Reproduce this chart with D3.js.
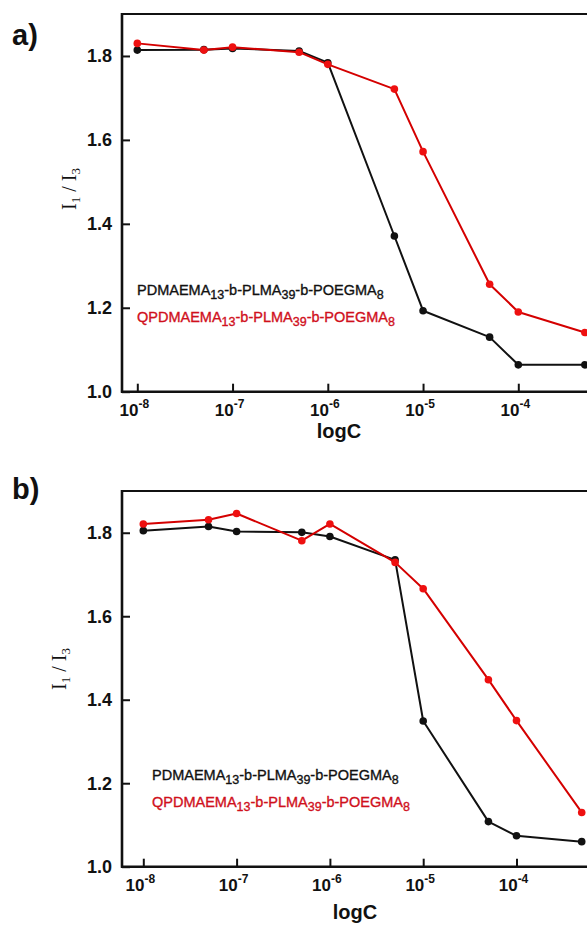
<!DOCTYPE html>
<html><head><meta charset="utf-8">
<script src="https://cdn.jsdelivr.net/npm/d3@7"></script>
<style>
body{margin:0;background:#fff;}
svg{display:block;}
</style></head>
<body>
<svg id="c" width="587" height="931"></svg>
<script>
// ---- data ----
const concentrations = [1e-8, 5e-8, 1e-7, 5e-7, 1e-6, 5e-6, 1e-5, 5e-5, 1e-4, 5e-4];
const panelA_PDMAEMA  = [1.814, 1.815, 1.818, 1.812, 1.784, 1.371, 1.193, 1.130, 1.064, 1.064];
const panelA_QPDMAEMA = [1.830, 1.814, 1.821, 1.809, 1.780, 1.721, 1.572, 1.256, 1.190, 1.141];
const panelB_PDMAEMA  = [1.805, 1.815, 1.803, 1.801, 1.791, 1.735, 1.349, 1.108, 1.074, 1.060];
const panelB_QPDMAEMA = [1.821, 1.831, 1.846, 1.781, 1.821, 1.729, 1.666, 1.448, 1.350, 1.130];
const xTickValues = [1e-8, 1e-7, 1e-6, 1e-5, 1e-4];
const xTickExponents = ["-8", "-7", "-6", "-5", "-4"];
const yTickValues = [1.0, 1.2, 1.4, 1.6, 1.8];
const yTickLabels = ["1.0", "1.2", "1.4", "1.6", "1.8"];
const panelLetters = ["a)", "b)"];
const seriesNames = ["PDMAEMA", "QPDMAEMA"];

const svg = d3.select("#c");
const BLACK = "#111", RED_LINE = "#d40000", RED_DOT = "#ee1010", RED_TEXT = "#d0101c";

const panels = [
  {letter: panelLetters[0], a: panelA_PDMAEMA, b: panelA_QPDMAEMA,
   left: 122, top: 14, bottom: 391.7, x8: 137.3, decade: 95.25,
   letterPos: [12, 45], titlePos: [75.5, 189], xlabelPos: [339, 437.5], legendPos: [137, 290]},
  {letter: panelLetters[1], a: panelB_PDMAEMA, b: panelB_QPDMAEMA,
   left: 122, top: 491, bottom: 866.7, x8: 143.3, decade: 93.3,
   letterPos: [12, 499], titlePos: [66, 669], xlabelPos: [355, 919], legendPos: [152, 775]}
];

panels.forEach(p => {
  const lo = -8 - (p.x8 - p.left) / p.decade;
  const x = d3.scaleLog().domain([Math.pow(10, lo), 1e-3]).range([p.left, p.x8 + 5 * p.decade]);
  const y = d3.scaleLinear().domain([1.0, 1.9]).range([p.bottom, p.top]);
  const g = svg.append("g");

  // frame: top line
  g.append("line").attr("x1", p.left).attr("x2", 600).attr("y1", p.top).attr("y2", p.top)
    .attr("stroke", BLACK).attr("stroke-width", 2.2);

  // x axis
  const xa = g.append("g").attr("transform", `translate(0,${p.bottom})`)
    .call(d3.axisBottom(x).tickValues(xTickValues).tickSizeInner(-8).tickSizeOuter(0).tickFormat(""));
  xa.select(".domain").attr("stroke", BLACK).attr("stroke-width", 2.6).attr("d", `M${p.left - 1},0H600`);
  xa.selectAll(".tick line").attr("stroke", BLACK).attr("stroke-width", 2);
  xTickValues.forEach((v, i) => {
    const t = g.append("text").attr("x", x(v) - 3).attr("y", p.bottom + 24)
      .attr("text-anchor", "middle").attr("font-family", "Liberation Sans, Arial, sans-serif")
      .attr("font-weight", "bold").attr("font-size", 17).attr("fill", BLACK);
    t.append("tspan").text("10");
    t.append("tspan").attr("font-size", 12).attr("dy", -8).text(xTickExponents[i]);
  });

  // y axis
  const ya = g.append("g").attr("transform", `translate(${p.left},0)`)
    .call(d3.axisLeft(y).tickValues(yTickValues).tickSizeInner(-8).tickSizeOuter(0).tickFormat(""));
  ya.select(".domain").attr("stroke", BLACK).attr("stroke-width", 2.6).attr("d", `M0,${p.bottom + 1}V${p.top - 1}`);
  ya.selectAll(".tick line").attr("stroke", BLACK).attr("stroke-width", 2);
  yTickValues.forEach((v, i) => {
    g.append("text").attr("x", p.left - 10).attr("y", y(v) + 6.5)
      .attr("text-anchor", "end").attr("font-family", "Liberation Sans, Arial, sans-serif")
      .attr("font-weight", "bold").attr("font-size", 18).attr("fill", BLACK).text(yTickLabels[i]);
  });

  // axis titles
  g.append("text").attr("x", p.xlabelPos[0]).attr("y", p.xlabelPos[1]).attr("text-anchor", "middle")
    .attr("font-family", "Liberation Sans, Arial, sans-serif").attr("font-weight", "bold")
    .attr("font-size", 20).attr("fill", BLACK).text("logC");
  const yt = g.append("text").attr("transform", `translate(${p.titlePos[0]},${p.titlePos[1]}) rotate(-90)`)
    .attr("text-anchor", "middle").attr("font-family", "Liberation Serif, Times New Roman, serif")
    .attr("font-size", 20).attr("fill", BLACK);
  yt.append("tspan").text("I");
  yt.append("tspan").attr("font-size", 13).attr("dy", 4).text("1");
  yt.append("tspan").attr("dy", -4).text(" / I");
  yt.append("tspan").attr("font-size", 13).attr("dy", 4).text("3");

  // panel letter
  g.append("text").attr("x", p.letterPos[0]).attr("y", p.letterPos[1])
    .attr("font-family", "Liberation Sans, Arial, sans-serif").attr("font-weight", "bold")
    .attr("font-size", 29).attr("fill", BLACK).text(p.letter);

  // series
  const line = d3.line().x((d, i) => x(concentrations[i])).y(d => y(d));
  [[p.a, BLACK, BLACK], [p.b, RED_LINE, RED_DOT]].forEach(([vals, lc, dc]) => {
    g.append("path").datum(vals).attr("d", line).attr("fill", "none")
      .attr("stroke", lc).attr("stroke-width", 2).attr("stroke-linejoin", "round");
    g.selectAll(null).data(vals).enter().append("circle")
      .attr("cx", (d, i) => x(concentrations[i])).attr("cy", d => y(d)).attr("r", 3.8).attr("fill", dc);
  });

  // legend
  [[seriesNames[0], BLACK, 0], [seriesNames[1], RED_TEXT, 26.7]].forEach(([nm, col, dy]) => {
    const t = g.append("text").attr("x", p.legendPos[0]).attr("y", p.legendPos[1] + dy + 5)
      .attr("font-family", "Liberation Sans, Arial, sans-serif").attr("font-size", 14.5)
      .attr("fill", col).attr("stroke", col).attr("stroke-width", 0.35);
    t.append("tspan").text(nm);
    t.append("tspan").attr("font-size", 12.5).attr("dy", 4).text("13");
    t.append("tspan").attr("dy", -4).text("-b-PLMA");
    t.append("tspan").attr("font-size", 12.5).attr("dy", 4).text("39");
    t.append("tspan").attr("dy", -4).text("-b-POEGMA");
    t.append("tspan").attr("font-size", 12.5).attr("dy", 4).text("8");
  });
});
</script>
</body></html>
